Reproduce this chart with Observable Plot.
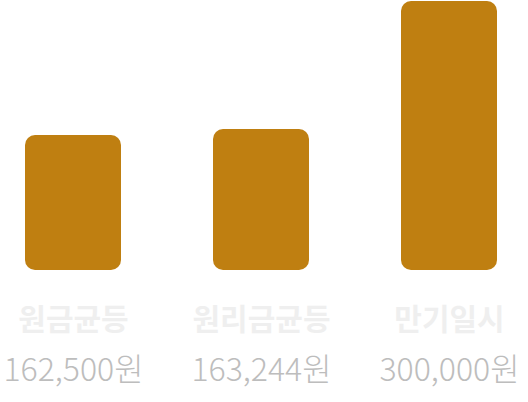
<!DOCTYPE html>
<html><head><meta charset="utf-8">
<script src="https://cdn.jsdelivr.net/npm/d3@7"></script>
<script src="https://cdn.jsdelivr.net/npm/@observablehq/plot@0.6"></script>
<style>
html,body{margin:0;padding:0;background:#fff;}
svg{display:block;}
</style>
</head><body>
<div id="chart"></div>
<script>
const categories = ["원금균등", "원리금균등", "만기일시"];
const amounts = [162500, 163244, 300000];
const amountLabels = ["162,500원", "163,244원", "300,000원"];
// bar length as drawn, percent of tallest bar
const barShare = [50.2, 52.4, 100];

const data = categories.map((c, i) => ({
  category: c, amount: amounts[i], label: amountLabels[i], share: barShare[i]
}));

const chart = Plot.plot({
  width: 528,
  height: 402,
  marginLeft: 24,
  marginRight: 30,
  marginTop: 1,
  marginBottom: 132,
  style: {fontFamily: "'Noto Sans CJK KR', 'Noto Sans', sans-serif", background: "#fff"},
  x: {domain: categories, paddingInner: 0.492, paddingOuter: 0, axis: null},
  y: {domain: [0, 100], axis: null},
  marks: [
    Plot.barY(data, {x: "category", y: "share", fill: "#bf7f11", rx: 10}),
    Plot.text(data, {x: "category", text: "category", frameAnchor: "bottom", dy: 50, lineAnchor: "middle",
      fontSize: 30, fontWeight: "bold", fill: "#efefef"}),
    Plot.text(data, {x: "category", text: "label", frameAnchor: "bottom", dy: 100, lineAnchor: "middle",
      fontSize: 32, fontWeight: 300, fill: "#bdbdbd"})
  ]
});
document.getElementById("chart").appendChild(chart);
</script>
</body></html>
